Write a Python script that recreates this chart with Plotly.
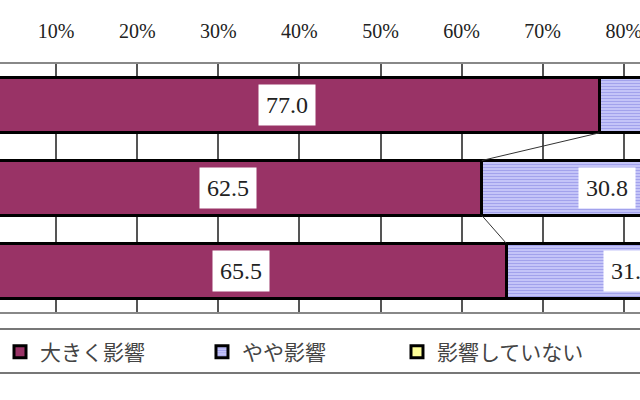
import plotly.graph_objects as go

# row positions (row labels are cut off on the left of the picture)
rows = [0, 1, 2]
big = [77.0, 62.5, 65.5]      # 大きく影響
some = [20.0, 30.8, 31.0]     # やや影響
none = [3.0, 6.7, 3.5]        # 影響していない
names = ["大きく影響", "やや影響", "影響していない"]
tick_vals = [0, 10, 20, 30, 40, 50, 60, 70, 80, 90, 100]
tick_text = [f"{t}%" for t in tick_vals]

bar_w = 0.665
series = [big, some, none]
fills = ["#993366", "#c6c6f8", "#ffff99"]
legend_ids = ["legend", "legend2", "legend3"]
legend_x = [0.0, 0.3156, 0.6203]

fig = go.Figure()

for vals, name, col, lg in zip(series, names, fills, legend_ids):
    marker = dict(color=col, line=dict(color="black", width=3))
    if name == "やや影響":
        marker["pattern"] = dict(shape="-", bgcolor="#cccCfb", fgcolor="#a2a2ec",
                                 size=3, solidity=0.45, fillmode="replace")
    fig.add_trace(go.Bar(y=rows, x=vals, name=name, orientation="h",
                         width=bar_w, marker=marker, legend=lg))

# series lines between the bars
ends1 = big
ends2 = [a + b for a, b in zip(big, some)]
for ends in (ends1, ends2):
    for i in range(len(rows) - 1):
        fig.add_trace(go.Scatter(x=[ends[i], ends[i + 1]],
                                 y=[rows[i] + bar_w / 2, rows[i + 1] - bar_w / 2],
                                 mode="lines", line=dict(color="#333333", width=1),
                                 showlegend=False, hoverinfo="skip"))

# data labels in white boxes
start = [0, 0, 0]
for vals in series:
    for i, v in enumerate(vals):
        fig.add_annotation(x=start[i] + v / 2, y=rows[i], text=f"{v:.1f}",
                           showarrow=False, bgcolor="white", borderpad=7,
                           font=dict(family="Liberation Serif", size=24, color="#222222"))
        start[i] += v

legend_font = dict(family="Noto Sans CJK JP", size=21, color="#444444")
legends = {}
for lg, lx in zip(legend_ids, legend_x):
    legends[lg] = dict(orientation="h", x=lx, xanchor="left", yref="container",
                       y=0.12, yanchor="middle", bgcolor="rgba(0,0,0,0)",
                       font=legend_font)

fig.update_layout(
    width=640, height=400,
    margin=dict(l=0, r=0, t=64, b=88),
    barmode="stack",
    paper_bgcolor="white",
    plot_bgcolor="white",
    xaxis=dict(range=[3.08, 82.0], side="top", tickvals=tick_vals, ticktext=tick_text,
               automargin=False, ticklabeloverflow="allow",
               showgrid=True, gridcolor="#555555", gridwidth=1.5, zeroline=False,
               showline=True, mirror=True, linecolor="#888888", linewidth=2,
               ticklabelstandoff=16,
               tickfont=dict(family="Liberation Serif", size=20, color="#222222")),
    yaxis=dict(range=[2.5, -0.5], showticklabels=False, showgrid=False,
               zeroline=False, showline=False, automargin=False),
    **legends,
)

# legend frame lines (sides are outside the picture)
for yy in (-0.0685, -0.246):
    fig.add_shape(type="line", xref="paper", yref="paper", x0=0, x1=1, y0=yy, y1=yy,
                  line=dict(color="#777777", width=2))

fig.write_html("out.html", config={"displayModeBar": False},
               post_script="document.body.style.margin = '0';")
